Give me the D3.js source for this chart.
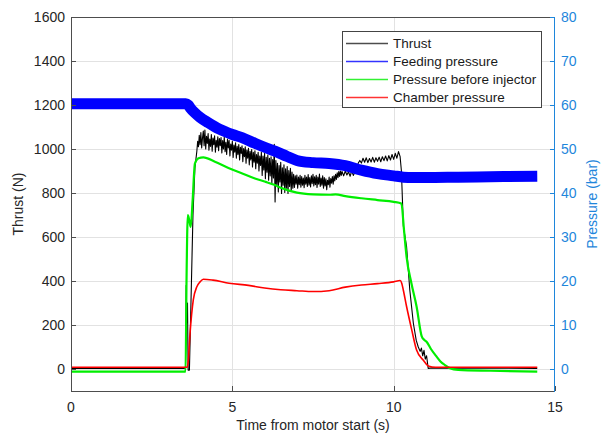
<!DOCTYPE html>
<html><head><meta charset="utf-8">
<script src="https://cdn.jsdelivr.net/npm/d3@7"></script>
<style>
body{margin:0;background:#fff;}
text{font-family:"Liberation Sans",Arial,Helvetica,sans-serif;}
</style></head>
<body><svg id="c" width="605" height="435"></svg>
<script>
// ---------- DATA ----------
const xTicks = [0, 5, 10, 15];
const thrustTicks = [0, 200, 400, 600, 800, 1000, 1200, 1400, 1600];
const pressureTicks = [0, 10, 20, 30, 40, 50, 60, 70, 80];
const seriesNames = ["Thrust", "Feeding pressure", "Pressure before injector", "Chamber pressure"];
const seriesColors = ["#000000", "#0000ff", "#00ee00", "#ff0000"];

// Thrust (N): ignition part (explicit times)
const thrustStartTime = [0, 3.55, 3.57, 3.59, 3.61, 3.63, 3.67, 3.73, 3.78, 3.84];
const thrustStartValues = [3, 3, 380, 210, 300, -5, -5, 380, 700, 914];
// Thrust (N): burn, sampled every 0.025 s from 3.900 s to 8.375 s
const thrustBurnA = [
 990,1035,1010,1062,1020,1075,1005,1050,1082,1015,
 1086,1000,1058,1025,1070,995,1045,1012,1066,990,
 1050,1020,1060,985,1040,1008,1055,992,1048,1015,
 1052,982,1038,1000,1056,988,1030,975,1045,1005,
 1040,968,1022,995,1035,962,1018,985,1028,958,
 1012,975,1020,950,1008,980,1015,942,1002,965,
 1010,935,995,958,1003,928,990,950,998,918,
 985,940,992,910,975,935,985,900,968,925,
 985,880,968,905,980,865,962,895,972,858,
 958,878,965,845,952,868,1021,759,948,838,
 935,805,925,850,940,798,915,835,928,802,
 910,822,920,798,902,830,912,808,895,822,
 885,825,878,840,882,822,872,838,880,826,
 875,835,868,824,880,840,872,830,884,836,
 870,828,878,842,885,832,874,838,880,825,
 872,840,886,830,868,836,878,822,870,832,
 865,815,858,838,872,826,866,845,875,840,
 878,855,885,862,892,870,898,875,900,880];
// Thrust (N): burn, sampled every 0.05 s from 8.40 s to 10.20 s
const thrustBurnB = [
 898,878,900,882,896,876,900,880,895,905,
 935,948,936,958,940,960,938,957,941,962,
 940,960,944,963,942,965,947,968,946,970,
 950,975,953,980,958,988,965];
// Thrust (N): shutdown (explicit times)
const thrustEndTime = [10.24, 10.30, 10.40, 10.50, 10.61, 10.70, 10.76, 10.82, 10.86, 10.90, 10.94, 10.98, 11.02, 11.07, 11.20, 14.45];
const thrustEndValues = [900, 650, 556, 359, 208, 130, 101, 80, 95, 60, 85, 45, 60, 3, 5, 3];

// Feeding pressure (bar)
const feedTime = [0, 3.56, 3.63, 3.70, 3.84, 4.00, 4.25, 4.60, 5.00, 5.30, 5.70, 6.00, 6.32, 6.70, 7.00, 7.50, 8.00, 8.50, 9.00, 9.50, 10.00, 10.30, 10.60, 11.00, 12.00, 13.00, 14.45];
const feedValues = [60.3, 60.3, 60.0, 59.3, 58.2, 57.2, 56.0, 54.5, 53.3, 52.6, 51.3, 50.4, 49.5, 48.3, 47.4, 46.9, 46.7, 46.2, 45.2, 44.4, 43.9, 43.6, 43.5, 43.5, 43.6, 43.7, 43.8];

// Pressure before injector (bar)
const injTime = [0, 3.55, 3.58, 3.62, 3.66, 3.71, 3.77, 3.84, 3.95, 4.10, 4.46, 4.88, 5.29, 5.70, 6.00, 6.32, 6.50, 7.00, 7.50, 8.00, 8.20, 8.50, 9.00, 9.50, 10.00, 10.24, 10.32, 10.40, 10.55, 10.71, 10.87, 10.95, 11.02, 11.15, 11.33, 11.45, 11.59, 11.74, 12.00, 13.00, 14.45];
const injValues = [-0.6, -0.6, 20, 35, 34, 32.3, 38.4, 46.7, 47.9, 48.1, 47.1, 45.7, 44.5, 43.3, 42.6, 41.8, 41.2, 40.1, 39.7, 39.6, 39.7, 39.3, 38.8, 38.4, 38.0, 37.6, 31.6, 25.5, 19.5, 14.2, 7.4, 6.6, 6.2, 4.6, 2.8, 1.7, 0.9, 0.2, -0.2, -0.4, -0.6];

// Chamber pressure (bar)
const chamberTime = [0, 3.60, 3.63, 3.69, 3.79, 3.90, 4.00, 4.10, 4.40, 4.90, 5.50, 6.00, 6.50, 7.00, 7.50, 8.00, 8.50, 9.00, 9.50, 10.00, 10.20, 10.25, 10.30, 10.40, 10.56, 10.71, 10.92, 11.07, 11.30, 14.45];
const chamberValues = [0.4, 0.4, 1.5, 8.2, 15.7, 18.7, 19.8, 20.4, 20.2, 19.5, 19.0, 18.4, 18.0, 17.8, 17.6, 17.8, 18.6, 19.1, 19.4, 19.8, 20.1, 19.5, 17.9, 14.2, 8.9, 4.3, 2.0, 0.7, 0.4, 0.4];

// ---------- BUILD THRUST TABLE ----------
const thrustPts = [];
thrustStartTime.forEach((t, i) => thrustPts.push([t, thrustStartValues[i]]));
thrustBurnA.forEach((v, i) => thrustPts.push([3.9 + i * 0.025, v]));
thrustBurnB.forEach((v, i) => thrustPts.push([8.4 + i * 0.05, v]));
thrustEndTime.forEach((t, i) => thrustPts.push([t, thrustEndValues[i]]));

// ---------- DRAW ----------
const svg = d3.select("#c");
const L = 71, R = 555, T = 17, B = 391;
const axisGrey = "#4d4d4d", textCol = "#262626", rightCol = "#1e86db";
const x = d3.scaleLinear().domain([0, 15]).range([L, R]);
const yL = d3.scaleLinear().domain([-100, 1600]).range([B, T]);
const yR = d3.scaleLinear().domain([-5, 80]).range([B, T]);

// grid
const g = svg.append("g");
g.selectAll(".gx").data(xTicks.filter(d => d > 0 && d < 15)).join("line")
  .attr("x1", d => Math.round(x(d)) + 0.5).attr("x2", d => Math.round(x(d)) + 0.5)
  .attr("y1", T).attr("y2", B).attr("stroke", "#e2e2e2");
g.selectAll(".gy").data(thrustTicks.filter(d => d < 1600)).join("line")
  .attr("x1", L).attr("x2", R)
  .attr("y1", d => Math.round(yL(d)) + 0.5).attr("y2", d => Math.round(yL(d)) + 0.5).attr("stroke", "#e2e2e2");

// lines
const plot = svg.append("g");
function drawPts(pts, yScale, color, width, curve) {
  plot.append("path").datum(pts)
    .attr("d", d3.line().curve(curve || d3.curveLinear).x(d => x(d[0])).y(d => yScale(d[1])))
    .attr("fill", "none").attr("stroke", color).attr("stroke-width", width)
    .attr("stroke-linejoin", "round");
}
const zip = (ts, vs) => ts.map((t, i) => [t, vs[i]]);
drawPts(thrustPts, yL, seriesColors[0], 1.1);
drawPts(zip(feedTime, feedValues), yR, seriesColors[1], 11, d3.curveMonotoneX);
drawPts(zip(injTime, injValues), yR, seriesColors[2], 2.2, d3.curveMonotoneX);
drawPts(zip(chamberTime, chamberValues), yR, seriesColors[3], 1.6, d3.curveMonotoneX);

// axes frame
svg.append("line").attr("x1", L + 0.5).attr("x2", L + 0.5).attr("y1", T).attr("y2", B + 0.5).attr("stroke", axisGrey);
svg.append("line").attr("x1", L).attr("x2", R).attr("y1", B + 0.5).attr("y2", B + 0.5).attr("stroke", axisGrey);
svg.append("line").attr("x1", L).attr("x2", R).attr("y1", T + 0.5).attr("y2", T + 0.5).attr("stroke", axisGrey);
svg.append("line").attr("x1", R - 0.5).attr("x2", R - 0.5).attr("y1", T).attr("y2", B + 1).attr("stroke", rightCol);

// left axis ticks + labels
const lt = svg.append("g");
lt.selectAll("line").data(thrustTicks).join("line")
  .attr("x1", L).attr("x2", L + 5)
  .attr("y1", d => Math.round(yL(d)) + 0.5).attr("y2", d => Math.round(yL(d)) + 0.5).attr("stroke", axisGrey);
lt.selectAll("text").data(thrustTicks).join("text")
  .attr("x", L - 6).attr("y", d => yL(d)).attr("dy", "0.35em")
  .attr("text-anchor", "end").attr("font-size", 14).attr("fill", textCol).text(d => d);

// right axis
const rt = svg.append("g");
rt.selectAll("line").data(pressureTicks).join("line")
  .attr("x1", R - 5).attr("x2", R)
  .attr("y1", d => Math.round(yR(d)) + 0.5).attr("y2", d => Math.round(yR(d)) + 0.5).attr("stroke", rightCol);
rt.selectAll("text").data(pressureTicks).join("text")
  .attr("x", R + 6).attr("y", d => yR(d)).attr("dy", "0.35em")
  .attr("text-anchor", "start").attr("font-size", 14).attr("fill", rightCol).text(d => d);

// bottom axis
const bt = svg.append("g");
bt.selectAll("line").data(xTicks).join("line")
  .attr("x1", d => Math.round(x(d)) + 0.5).attr("x2", d => Math.round(x(d)) + 0.5)
  .attr("y1", B - 5).attr("y2", B).attr("stroke", axisGrey);
bt.selectAll("text").data(xTicks).join("text")
  .attr("x", d => x(d)).attr("y", 412)
  .attr("text-anchor", "middle").attr("font-size", 14).attr("fill", textCol).text(d => d);

// axis titles
svg.append("text").attr("x", (L + R) / 2).attr("y", 430).attr("text-anchor", "middle")
  .attr("font-size", 14).attr("fill", textCol).text("Time from motor start (s)");
svg.append("text").attr("transform", `translate(23,${(T + B) / 2}) rotate(-90)`).attr("text-anchor", "middle")
  .attr("font-size", 14).attr("fill", textCol).text("Thrust (N)");
svg.append("text").attr("transform", `translate(587,${(T + B) / 2}) rotate(-90)`).attr("text-anchor", "middle")
  .attr("dy", "0.7em")
  .attr("font-size", 14).attr("fill", rightCol).text("Pressure (bar)");

// legend
const lg = svg.append("g");
lg.append("rect").attr("x", 342.5).attr("y", 31.5).attr("width", 199).attr("height", 76)
  .attr("fill", "#fff").attr("stroke", "#444");
seriesNames.forEach((name, i) => {
  const yy = 43 + i * 18;
  lg.append("rect").attr("x", 346).attr("y", yy - 0.25).attr("width", 42).attr("height", 1.5)
    .attr("fill", seriesColors[i]).attr("fill-opacity", i === 0 ? 0.7 : 0.8);
  lg.append("text").attr("x", 393).attr("y", yy).attr("dy", "0.35em").attr("font-size", 13.5)
    .attr("fill", "#1a1a1a").text(name);
});
</script></body></html>
